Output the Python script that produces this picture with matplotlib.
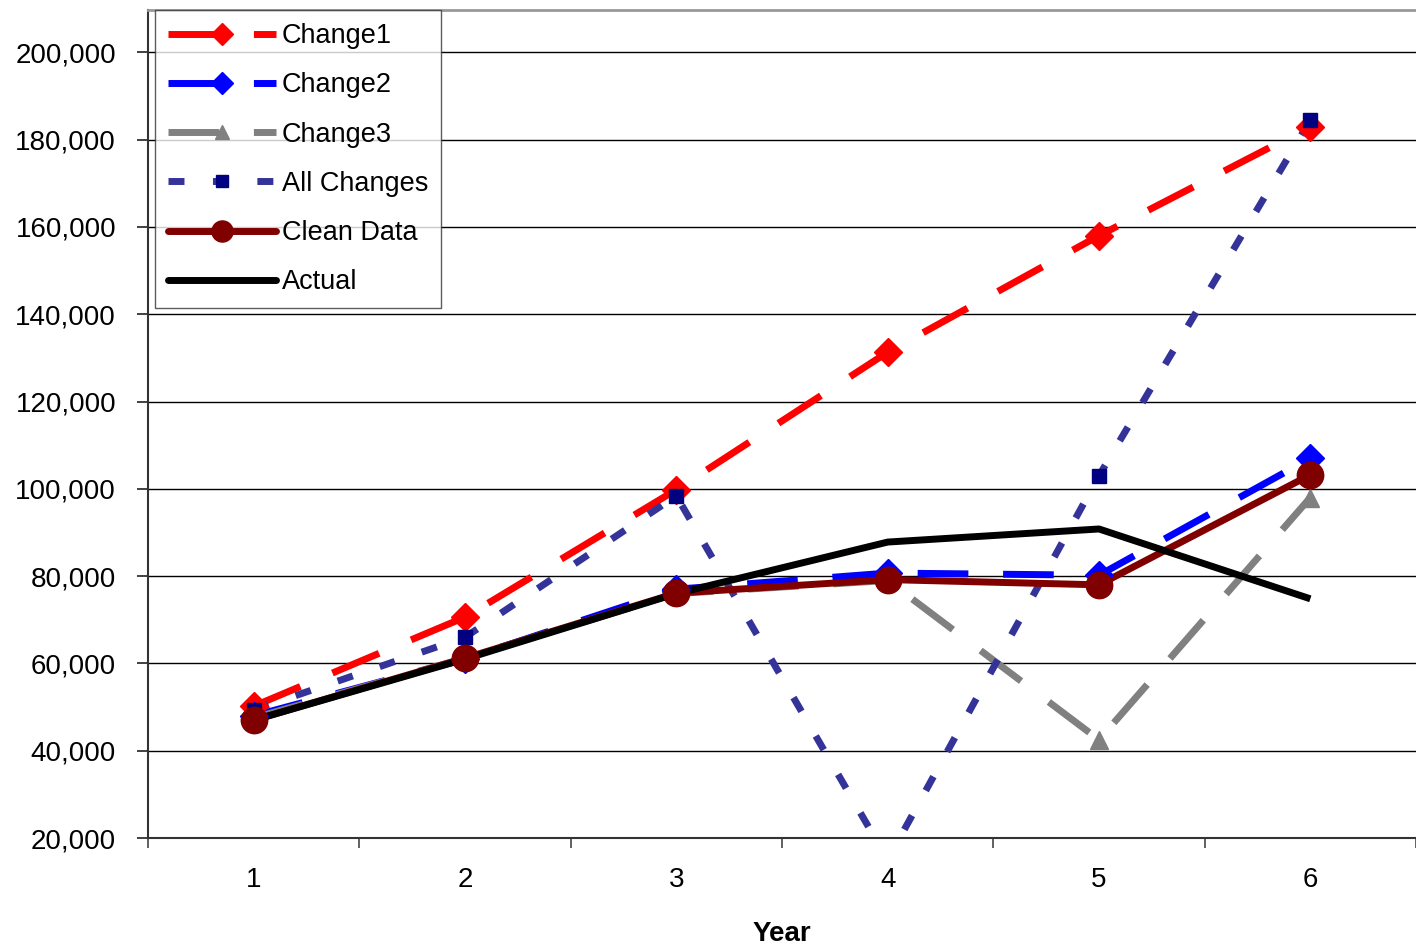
import matplotlib
matplotlib.use("Agg")
import matplotlib.pyplot as plt
from matplotlib.lines import Line2D

years = [1, 2, 3, 4, 5, 6]
change1 = [50200, 70600, 99800, 131300, 158000, 183000]
change2 = [48000, 61000, 77000, 80700, 80200, 107000]
change3 = [47500, 61200, 76000, 79000, 42500, 98000]
all_changes = [49300, 66000, 98400, 15000, 103000, 184500]
clean_data = [47000, 61200, 76100, 79200, 78000, 103200]
actual = [47000, 61000, 76000, 87800, 90800, 74800]

plt.rcParams['font.family'] = ['Liberation Sans', 'DejaVu Sans']

fig = plt.figure(figsize=(14.16, 9.46), dpi=100)
ax = fig.add_axes([148/1416, 108/946, 1 - 148/1416, 828/946])

series = [
    ("Change1", change1, "#ff0000", "#ff0000", "D", 14, (7.3, 5)),
    ("Change2", change2, "#0000ff", "#0000ff", "D", 14, (7.3, 5)),
    ("Change3", change3, "#808080", "#808080", "^", 13, (7.3, 5)),
    ("All Changes", all_changes, "#333399", "#000080", "s", 10, (2.3, 4.1)),
    ("Clean Data", clean_data, "#800000", "#800000", "o", 19, None),
    ("Actual", actual, "#000000", None, None, 0, None),
]

handles = []
for i, (name, vals, lc, mc, mk, ms, dash) in enumerate(series):
    ls = (0, dash) if dash else "-"
    ax.plot(years, vals, color=lc, lw=5, linestyle=ls, zorder=3 + i * 0.1,
            solid_capstyle="butt", dash_capstyle="butt")
    if mk:
        ax.plot(years, vals, linestyle="none", marker=mk, markersize=ms,
                color=mc, markeredgecolor=mc, zorder=5 + i * 0.1)
    handles.append(Line2D([], [], color=lc, lw=5, linestyle=ls, marker=mk,
                          markersize=ms * 0.8 if mk else 0, markerfacecolor=mc,
                          markeredgecolor=mc, solid_capstyle="round"))

ax.set_xlim(0.5, 6.5)
ax.set_ylim(20000, 209700)
ax.set_yticks(range(20000, 200001, 20000))
ax.set_yticklabels([f"{v:,}" for v in range(20000, 200001, 20000)])
ax.set_xticks(years)
ax.set_xticks([0.5, 1.5, 2.5, 3.5, 4.5, 5.5, 6.5], minor=True)
ax.tick_params(axis="x", which="major", length=0, pad=21, labelsize=20)
ax.tick_params(axis="x", which="minor", length=7, color="#555555", width=1.3)
ax.tick_params(axis="y", length=8, width=1.3, color="#333333", pad=15, labelsize=20)
ax.yaxis.grid(True, color="black", lw=1)
ax.set_axisbelow(True)
for s in ["left", "bottom"]:
    ax.spines[s].set_color("#333333")
    ax.spines[s].set_linewidth(1.5)
ax.spines["top"].set_color("#999999")
ax.spines["top"].set_linewidth(2)
ax.spines["right"].set_visible(False)

ax.set_xlabel("Year", fontsize=20, fontweight="bold", labelpad=20)

leg = ax.legend(handles, [s[0] for s in series], loc="upper left",
                bbox_to_anchor=(155/1416, 1 - 10/946), bbox_transform=fig.transFigure,
                fontsize=19.5, frameon=True, fancybox=False, edgecolor="#333333",
                handlelength=4.0, handletextpad=0.2, labelspacing=0.86,
                borderpad=0.48, borderaxespad=0)
leg.get_frame().set_linewidth(1)

fig.savefig("out.png", dpi=100)
